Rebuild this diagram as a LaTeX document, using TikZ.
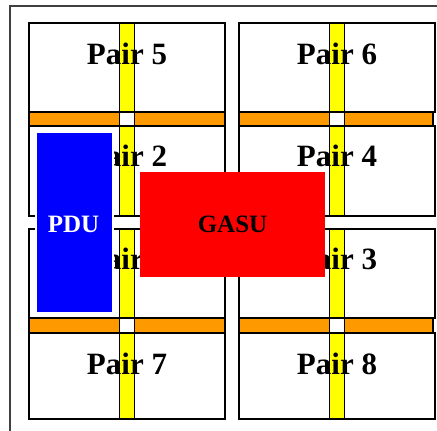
\documentclass[tikz,border=0pt]{standalone}
\usepackage{fontspec}
\setmainfont{Liberation Serif}
\usetikzlibrary{positioning}

\definecolor{stripyellow}{HTML}{FFFF00}
\definecolor{barorange}{HTML}{FF9900}
\definecolor{pdublue}{HTML}{0000FF}
\definecolor{gasured}{HTML}{FF0000}

\begin{document}
\begin{tikzpicture}[
		x=1pt, y=-1pt,
		pairbox/.style={draw=black, line width=1.4pt, fill=white, inner sep=0pt, minimum width=196pt},
		strip/.style={draw=black, line width=1.2pt, fill=stripyellow, inner sep=0pt, minimum width=15pt},
		bar/.style={draw=black, line width=1.2pt, fill=barorange, inner sep=0pt, minimum height=14pt},
		hole/.style={draw=black, line width=1.2pt, fill=white, inner sep=0pt, minimum width=15pt, minimum height=14pt},
		pairtext/.style={anchor=base, inner sep=0pt, font=\fontsize{31}{31}\selectfont\bfseries},
		unittext/.style={inner sep=0pt, font=\fontsize{25}{25}\selectfont\bfseries}
		]
		
		% 画布
		\clip (0,0) rectangle (437,431);
		\draw[black!75, line width=1.6pt] (10,6) rectangle (460,460);
		
		% 各对的方框
		\node[pairbox, minimum height=89pt] (P5) at (127,67.5) {};
		\node[pairbox, minimum height=89pt] (P6) at (337,67.5) {};
		\node[pairbox, minimum height=90pt] (P2) at (127,171) {};
		\node[pairbox, minimum height=90pt] (P4) at (337,171) {};
		\node[pairbox, minimum height=89pt] (P1) at (127,273.5) {};
		\node[pairbox, minimum height=89pt] (P3) at (337,273.5) {};
		\node[pairbox, minimum height=86pt] (P7) at (127,376) {};
		\node[pairbox, minimum height=86pt] (P8) at (337,376) {};
		
		% 黄色竖条
		\node[strip, minimum height=89pt] (S5) at (P5.center) {};
		\node[strip, minimum height=89pt] (S6) at (P6.center) {};
		\node[strip, minimum height=90pt] (S2) at (P2.center) {};
		\node[strip, minimum height=90pt] (S4) at (P4.center) {};
		\node[strip, minimum height=89pt] (S1) at (P1.center) {};
		\node[strip, minimum height=89pt] (S3) at (P3.center) {};
		\node[strip, minimum height=86pt] (S7) at (P7.center) {};
		\node[strip, minimum height=86pt] (S8) at (P8.center) {};
		
		% 橙色横条和白色方块
		\node[bar, minimum width=196pt] (BA) at (127,119) {};
		\node[bar, minimum width=194pt] (BB) at (336,119) {};
		\node[bar, minimum width=196pt] (BC) at (127,325.5) {};
		\node[bar, minimum width=194pt] (BD) at (336,325.5) {};
		\node[hole] (HA) at (127,119) {};
		\node[hole] (HB) at (337,119) {};
		\node[hole] (HC) at (127,325.5) {};
		\node[hole] (HD) at (337,325.5) {};
		
		% 文字
		\node[pairtext] (T5) at ([yshift=-42pt]P5.north) {Pair 5};
		\node[pairtext] (T6) at ([yshift=-42pt]P6.north) {Pair 6};
		\node[pairtext] (T2) at ([yshift=-41pt]P2.north) {Pair 2};
		\node[pairtext] (T4) at ([yshift=-41pt]P4.north) {Pair 4};
		\node[pairtext] (T1) at ([yshift=-41pt]P1.north) {Pair 1};
		\node[pairtext] (T3) at ([yshift=-41pt]P3.north) {Pair 3};
		\node[pairtext] (T7) at ([yshift=-42pt]P7.north) {Pair 7};
		\node[pairtext] (T8) at ([yshift=-42pt]P8.north) {Pair 8};
		
		% PDU 和 GASU
		\node[draw=white, line width=2pt, fill=pdublue, inner sep=0pt, minimum width=77pt, minimum height=181pt] (PDU) at (74.5,222.5) {};
		\node[unittext, text=white, anchor=base] (PDUtext) at (73.5,232) {PDU};
		\node[fill=gasured, inner sep=0pt, minimum width=185pt, minimum height=105pt] (GASU) at (232.5,224.5) {};
		\node[unittext, anchor=base] (GASUtext) at (232.5,232) {GASU};
		
	\end{tikzpicture}
\end{document}
